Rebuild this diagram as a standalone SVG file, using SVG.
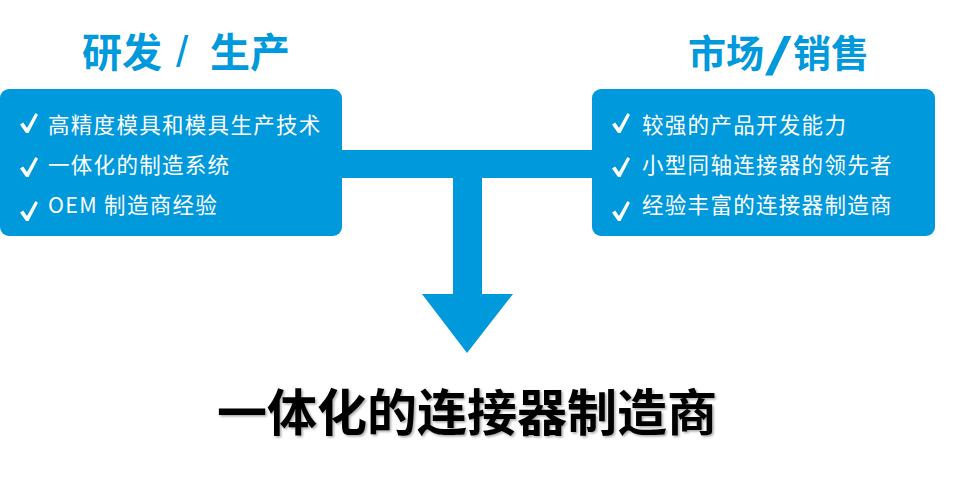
<svg xmlns="http://www.w3.org/2000/svg" width="965" height="481" viewBox="0 0 965 481">
<style>
.box{fill:#0099DC}
.title{font-family:"Noto Sans CJK SC","Liberation Sans",sans-serif;font-weight:bold;font-size:40px;fill:#0099DC}
.item{font-family:"Noto Sans CJK SC","Liberation Sans",sans-serif;font-size:21.5px;fill:#ffffff;letter-spacing:1.3px}
.chk{fill:#ffffff}
.main{font-family:"Noto Sans CJK SC","Liberation Sans",sans-serif;font-weight:bold;font-size:50px;fill:#000000;text-anchor:middle}
</style>
<defs>
<path id="check" d="M0,11.5 L3.2,9.5 L7,15 L15.5,0 L18,1.8 L8.5,20 L6,20 Z"/>
<filter id="sh" x="-5%" y="-20%" width="110%" height="140%">
<feDropShadow dx="1.5" dy="1.5" stdDeviation="1" flood-color="#000" flood-opacity="0.35"/>
</filter>
</defs>
<g id="connectors">
<rect class="box" x="330" y="150" width="275" height="28"/>
<rect class="box" x="453" y="170" width="29" height="126"/>
<polygon class="box" points="422,294 513,294 467,353"/>
</g>
<g id="left">
<text class="title" y="67"><tspan x="82">研发</tspan><tspan x="176" font-weight="normal" font-family="Liberation Sans, sans-serif" font-size="44">/</tspan><tspan x="210">生产</tspan></text>
<rect class="box" x="0" y="89" width="342" height="147" rx="9"/>
<use href="#check" class="chk" x="20" y="113"/>
<use href="#check" class="chk" x="20" y="157"/>
<use href="#check" class="chk" x="20" y="201"/>
<text class="item" x="48" y="133">高精度模具和模具生产技术</text>
<text class="item" x="48" y="173">一体化的制造系统</text>
<text class="item" x="48" y="213">OEM 制造商经验</text>
</g>
<g id="right">
<text class="title" y="67"><tspan x="688" font-size="38">市场</tspan><tspan x="793" font-size="38">销售</tspan></text>
<text class="title" transform="translate(764,68) scale(1.9,1)" font-size="44" font-family="Liberation Sans, sans-serif">/</text>
<rect class="box" x="592" y="89" width="343" height="147" rx="9"/>
<use href="#check" class="chk" x="612" y="113"/>
<use href="#check" class="chk" x="612" y="157"/>
<use href="#check" class="chk" x="612" y="201"/>
<text class="item" x="642" y="133">较强的产品开发能力</text>
<text class="item" x="642" y="173">小型同轴连接器的领先者</text>
<text class="item" x="642" y="213">经验丰富的连接器制造商</text>
</g>
<g id="result">
<text class="main" x="467" y="431" filter="url(#sh)">一体化的连接器制造商</text>
</g>
</svg>
